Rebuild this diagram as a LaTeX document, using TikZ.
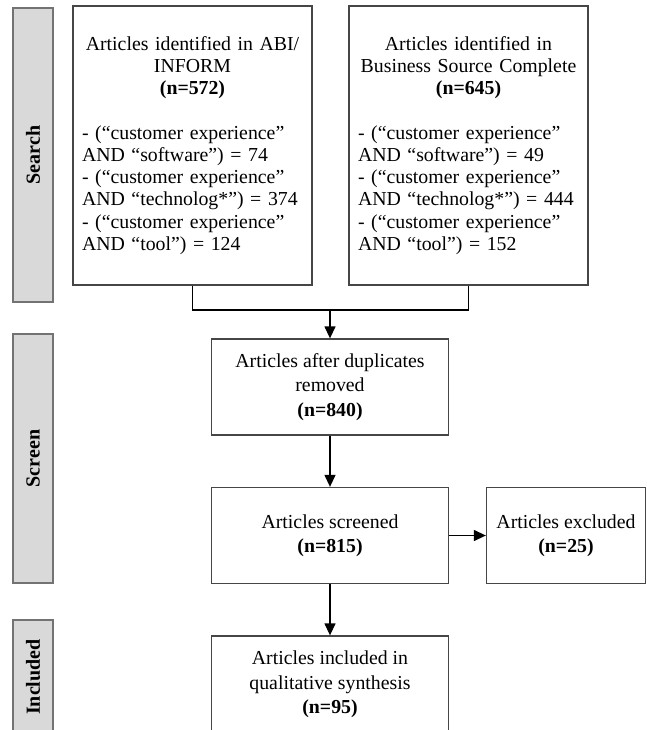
\documentclass[tikz,border=0pt]{standalone}
\usepackage{fontspec}
\setmainfont{Liberation Serif}
\usetikzlibrary{arrows.meta}
\definecolor{barfill}{RGB}{217,217,217}
\definecolor{barline}{RGB}{115,115,115}
\definecolor{boxline}{RGB}{70,70,70}

\begin{document}
\begin{tikzpicture}[x=1pt, y=-1pt,
    phase/.style={draw=barline, fill=barfill, line width=1.3pt, rotate=90,
        minimum height=40pt, inner sep=0pt, font=\fontsize{20}{23}\selectfont\bfseries},
    srcbox/.style={draw=boxline, line width=1.3pt, minimum width=239pt, minimum height=279pt,
        text width=221pt, inner xsep=9pt, align=left, font=\fontsize{19.8}{22.2}\selectfont},
    stepbox/.style={draw=boxline, line width=1.3pt, minimum width=237pt, minimum height=96pt,
        align=center, font=\fontsize{19.8}{24.5}\selectfont},
    flow/.style={line width=1.3pt, -{Triangle[length=12pt, width=11pt]}},
    link/.style={line width=1.3pt}]
    \useasboundingbox (0,0) rectangle (647,730);

    % Phase bars
    \node[phase, minimum width=294pt] (search) at (33,155) {Search};
    \node[phase, minimum width=249pt] (screen) at (33,458.5) {Screen};
    \node[phase, minimum width=114pt] (inclbar) at (33,677) {Included};

    % Database searches
    \node[srcbox] (abi) at (192.5,145.5) {{\centering Articles identified in ABI/\\INFORM\\\textbf{(n=572)}\par}
        \vspace{22.2pt}
        - (“customer experience”\\AND “software”) = 74\\
        - (“customer experience”\\AND “technolog*”) = 374\\
        - (“customer experience”\\AND “tool”) = 124};
    \node[srcbox] (bsc) at (468.5,145.5) {{\centering Articles identified in\\Business Source Complete\\\textbf{(n=645)}\par}
        \vspace{22.2pt}
        - (“customer experience”\\AND “software”) = 49\\
        - (“customer experience”\\AND “technolog*”) = 444\\
        - (“customer experience”\\AND “tool”) = 152};

    % Steps
    \node[stepbox] (dup) at (330,387) {Articles after duplicates\\removed\\\textbf{(n=840)}};
    \node[stepbox] (screened) at (330,535.5) {Articles screened\\\textbf{(n=815)}};
    \node[stepbox, minimum width=159pt] (excluded) at (566,535.5) {Articles excluded\\\textbf{(n=25)}};
    \node[stepbox, minimum height=97pt] (included) at (330,684.5) {Articles included in\\qualitative synthesis\\\textbf{(n=95)}};

    % Connectors
    \coordinate (merge) at (330,310);
    \draw[link] (abi.south) |- (merge) -| (bsc.south);
    \draw[flow] (merge) -- (dup.north);
    \draw[flow] (dup.south) -- (screened.north);
    \draw[flow] (screened.east) -- (excluded.west);
    \draw[flow] (screened.south) -- (included.north);
\end{tikzpicture}
\end{document}
